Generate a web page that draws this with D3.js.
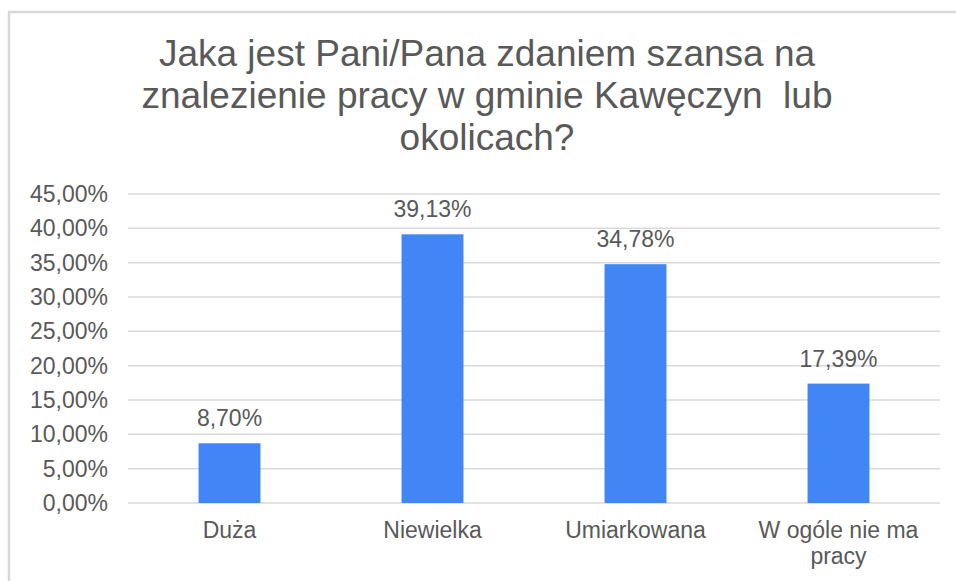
<!DOCTYPE html>
<html>
<head>
<meta charset="utf-8">
<script src="https://cdn.jsdelivr.net/npm/d3@7"></script>
<style>
  body { margin: 0; background: #fff; }
  svg text { font-family: "Liberation Sans", Arial, sans-serif; fill: #595959; }
</style>
</head>
<body>
<svg id="chart" width="956" height="581"></svg>
<script>
// data
var categories = ["Duża", "Niewielka", "Umiarkowana", "W ogóle nie ma pracy"];
var categoryLines = [["Duża"], ["Niewielka"], ["Umiarkowana"], ["W ogóle nie ma", "pracy"]];
var values = [8.70, 39.13, 34.78, 17.39];
var yTicks = [0, 5, 10, 15, 20, 25, 30, 35, 40, 45];
var titleLines = ["Jaka jest Pani/Pana zdaniem szansa na",
                  "znalezienie pracy w gminie Kawęczyn  lub",
                  "okolicach?"];

var svg = d3.select("#chart");
var plot = { left: 128, right: 940, top: 194, bottom: 503 };

function fmt(v) {
    return v.toFixed(2).replace(".", ",") + "%";
}

// outer border (runs off the right and bottom edge)
svg.append("rect")
    .attr("x", 9)
    .attr("y", 12)
    .attr("width", 1000)
    .attr("height", 700)
    .attr("fill", "none")
    .attr("stroke", "#d9d9d9")
    .attr("stroke-width", 2.5);

// title
svg.append("text")
    .attr("text-anchor", "middle")
    .style("font-size", "37px")
    .style("white-space", "pre")
    .selectAll("tspan")
    .data(titleLines)
    .enter()
    .append("tspan")
      .attr("x", 487)
      .attr("y", function(d, i) { return 66 + i * 42; })
      .text(function(d) { return d; });

var x = d3.scaleBand()
    .domain(categories)
    .range([plot.left, plot.right])
    .paddingInner(0.695)
    .paddingOuter(0.3475);

var y = d3.scaleLinear()
    .domain([0, 45])
    .range([plot.bottom, plot.top]);

// gridlines
svg.append("g")
    .selectAll("line")
    .data(yTicks)
    .enter()
    .append("line")
      .attr("x1", plot.left)
      .attr("x2", plot.right)
      .attr("y1", function(d) { return y(d); })
      .attr("y2", function(d) { return y(d); })
      .attr("stroke", "#d9d9d9")
      .attr("stroke-width", 1.5);

// y axis labels
var yAxis = svg.append("g")
    .attr("transform", "translate(108,0)")
    .call(d3.axisLeft(y).tickValues(yTicks).tickSize(0).tickPadding(0).tickFormat(fmt));
yAxis.select(".domain").remove();
yAxis.selectAll("text")
    .style("font-size", "23px")
    .style("font-family", null)
    .attr("fill", null);

// bars
svg.append("g")
    .selectAll("rect")
    .data(values)
    .enter()
    .append("rect")
      .attr("x", function(d, i) { return x(categories[i]); })
      .attr("y", function(d) { return y(d); })
      .attr("width", x.bandwidth())
      .attr("height", function(d) { return y(0) - y(d); })
      .attr("fill", "#4285f4");

// value labels
svg.append("g")
    .selectAll("text")
    .data(values)
    .enter()
    .append("text")
      .attr("x", function(d, i) { return x(categories[i]) + x.bandwidth() / 2; })
      .attr("y", function(d) { return y(d) - 17; })
      .attr("text-anchor", "middle")
      .style("font-size", "23px")
      .text(fmt);

// category labels
svg.append("g")
    .selectAll("text")
    .data(categoryLines)
    .enter()
    .append("text")
      .attr("text-anchor", "middle")
      .style("font-size", "23px")
      .each(function(d, i) {
          var cx = x(categories[i]) + x.bandwidth() / 2;
          d3.select(this).selectAll("tspan")
            .data(d)
            .enter()
            .append("tspan")
              .attr("x", cx)
              .attr("y", function(e, j) { return 538 + j * 26; })
              .text(function(e) { return e; });
      });
</script>
</body>
</html>
